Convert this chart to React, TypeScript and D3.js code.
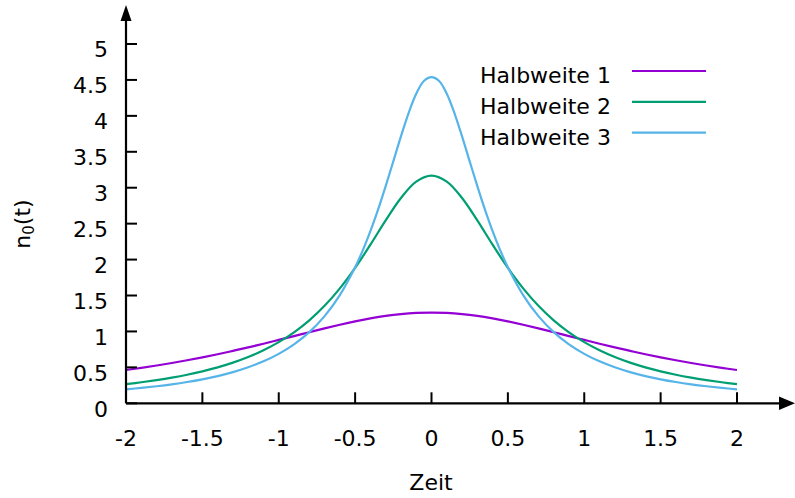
import React from "react";
import * as d3 from "d3";

const xGrid = [0, 0.1, 0.2, 0.3, 0.4, 0.5, 0.6, 0.7, 0.8, 0.9, 1.0, 1.1, 1.2, 1.3, 1.4, 1.5, 1.6, 1.7, 1.8, 1.9, 2.0];
const purpleVals = [1.263, 1.258, 1.242, 1.216, 1.181, 1.14, 1.093, 1.042, 0.989, 0.935, 0.882, 0.829, 0.778, 0.73, 0.683, 0.64, 0.599, 0.561, 0.526, 0.493, 0.463];
const greenVals = [3.169, 3.085, 2.857, 2.545, 2.207, 1.885, 1.6, 1.357, 1.155, 0.988, 0.851, 0.738, 0.644, 0.566, 0.5, 0.445, 0.397, 0.357, 0.323, 0.293, 0.266];
const blueX = [0, 0.05, 0.1, 0.15, 0.2, 0.25, 0.3, 0.35, 0.4, 0.45, 0.5, 0.6, 0.7, 0.8, 0.9, 1.0, 1.1, 1.2, 1.3, 1.4, 1.5, 1.6, 1.7, 1.8, 1.9, 2.0];
const blueVals = [4.54, 4.486, 4.307, 4.039, 3.715, 3.367, 3.022, 2.695, 2.396, 2.129, 1.893, 1.506, 1.213, 0.99, 0.82, 0.688, 0.584, 0.501, 0.434, 0.379, 0.334, 0.296, 0.264, 0.237, 0.214, 0.194];

const seriesNames = ["Halbweite 1", "Halbweite 2", "Halbweite 3"];
const seriesColors = ["#9400d3", "#009e73", "#56b4e9"];
const xTicks = [-2, -1.5, -1, -0.5, 0, 0.5, 1, 1.5, 2];
const yTicks = [0, 0.5, 1, 1.5, 2, 2.5, 3, 3.5, 4, 4.5, 5];

// symmetric curves: mirror the read half
function mirror(xs: number[], ys: number[]): [number, number][] {
  const left: [number, number][] = [];
  for (let i = xs.length - 1; i > 0; i--) left.push([-xs[i], ys[i]]);
  const right: [number, number][] = xs.map((x, i) => [x, ys[i]]);
  return left.concat(right);
}

const W = 795, H = 498;
const FONT = "DejaVu Sans, sans-serif";
const FS = 22;

export default function App() {
  const x = d3.scaleLinear().domain([-2, 2]).range([126, 737]);
  const y = d3.scaleLinear().domain([0, 5]).range([403.3, 44]);
  const line = d3
    .line<[number, number]>()
    .x((d) => x(d[0]))
    .y((d) => y(d[1]))
    .curve(d3.curveCatmullRom);
  const data = [
    mirror(xGrid, purpleVals),
    mirror(xGrid, greenVals),
    mirror(blueX, blueVals),
  ];
  const x0 = x(-2);
  const y0 = y(0);
  return (
    <svg width={W} height={H} style={{ position: "absolute", left: 0, top: 0 }} fontFamily={FONT}>
      <rect width={W} height={H} fill="#fff" />
      {data.map((d, i) => (
        <path key={i} d={line(d) || ""} fill="none" stroke={seriesColors[i]} strokeWidth={2.2} />
      ))}
      {/* axes */}
      <line x1={x0} y1={y0} x2={781} y2={y0} stroke="#000" strokeWidth={2.2} />
      <path d={`M795,${y0} L779,${y0 - 6.7} L779,${y0 + 6.7} Z`} fill="#000" />
      <line x1={x0} y1={y0} x2={x0} y2={19} stroke="#000" strokeWidth={2.2} />
      <path d={`M${x0},5 L${x0 - 5.5},21 L${x0 + 5.5},21 Z`} fill="#000" />
      {xTicks.map((t) => (
        <g key={t}>
          <line x1={x(t)} x2={x(t)} y1={y0} y2={y0 - 11} stroke="#000" strokeWidth={2} />
          <text x={x(t)} y={446} textAnchor="middle" fontSize={FS}>
            {t}
          </text>
        </g>
      ))}
      {yTicks.map((t) => (
        <g key={t}>
          <line x1={x0} x2={x0 + 11} y1={y(t)} y2={y(t)} stroke="#000" strokeWidth={2} />
          <text x={108} y={y(t) + 13.4} textAnchor="end" fontSize={FS}>
            {t}
          </text>
        </g>
      ))}
      <text x={431} y={490} textAnchor="middle" fontSize={FS}>
        Zeit
      </text>
      <text transform="translate(30,224) rotate(-90)" textAnchor="middle" fontSize={FS}>
        n<tspan fontSize={15} dy={4}>0</tspan>
        <tspan dy={-4}>(t)</tspan>
      </text>
      {seriesNames.map((n, i) => (
        <g key={n}>
          <text x={480} y={83 + i * 30.8} fontSize={FS} style={{ whiteSpace: "pre" }}>
            {n}
          </text>
          <line x1={632} x2={706} y1={71 + i * 30.8} y2={71 + i * 30.8} stroke={seriesColors[i]} strokeWidth={2.2} />
        </g>
      ))}
    </svg>
  );
}
